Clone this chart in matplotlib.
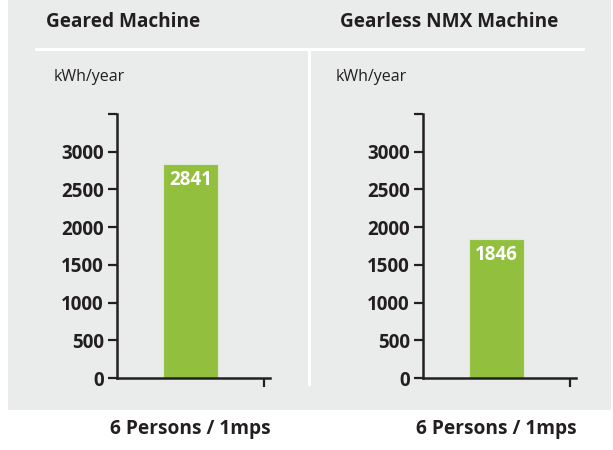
import matplotlib
matplotlib.use("Agg")
import matplotlib.pyplot as plt
from matplotlib.patches import Rectangle
from matplotlib.lines import Line2D

plt.rcParams['font.family'] = ['Open Sans', 'DejaVu Sans']

titles = ["Geared Machine", "Gearless NMX Machine"]
values = [2841, 1846]
unit_label = "kWh/year"
category_label = "6 Persons / 1mps"
yticks = [0, 500, 1000, 1500, 2000, 2500, 3000, 3500]
yticklabels = ["0", "500", "1000", "1500", "2000", "2500", "3000", ""]

W, H = 613, 450
fig = plt.figure(figsize=(W / 100, H / 100), dpi=100, facecolor="white")

def fx(px):
    return px / W

def fy(py):
    return 1 - py / H

bg = "#e9ecea"
txt = "#231f20"
green = "#92c03e"

fig.add_artist(Rectangle((fx(8), fy(410)), fx(611) - fx(8), fy(0) - fy(410),
                         transform=fig.transFigure, facecolor=bg, edgecolor="none", zorder=0))
fig.add_artist(Line2D([fx(36), fx(583)], [fy(49), fy(49)], transform=fig.transFigure,
                      color="white", lw=2.2, zorder=1))
fig.add_artist(Line2D([fx(309), fx(309)], [fy(49), fy(384)], transform=fig.transFigure,
                      color="white", lw=2.2, zorder=1))

panel_left = [117, 423]
title_x = [46, 340]
unit_x = [54, 336]

for i in range(2):
    ax = fig.add_axes([fx(panel_left[i]), fy(378), fx(153), (378 - 114) / H])
    ax.patch.set_alpha(0)
    ax.bar([0], [values[i]], width=0.8, color=green, edgecolor="#dfe9d6", linewidth=0.8, zorder=2)
    ax.annotate(str(values[i]), xy=(0, values[i]), xytext=(0, -12), textcoords="offset points",
                ha="center", va="center", color="white", fontsize=13.5, fontweight="bold")
    ax.set_xlim(-1.07, 1.155)
    ax.set_ylim(0, 3500)
    ax.set_yticks(yticks)
    ax.set_yticklabels(yticklabels)
    ax.set_xticks([1.065])
    ax.set_xticklabels([""])
    for s in ["top", "right"]:
        ax.spines[s].set_visible(False)
    for s in ["left", "bottom"]:
        ax.spines[s].set_linewidth(1.8)
        ax.spines[s].set_color(txt)
    ax.tick_params(axis="both", direction="out", length=6.5, width=1.6, color=txt,
                   labelsize=13.5, labelcolor=txt, pad=3)
    for lab in ax.get_yticklabels():
        lab.set_fontweight("bold")

    fig.text(fx(title_x[i]), fy(22), titles[i], fontsize=13.7, fontweight="bold", color=txt,
             ha="left", va="center")
    fig.text(fx(unit_x[i]), fy(77), unit_label, fontsize=11.5, color=txt, ha="left", va="center")
    fig.text(fx(panel_left[i] + 154), fy(429), category_label, fontsize=13.8, fontweight="bold",
             color=txt, ha="right", va="center")

fig.savefig("out.png", dpi=100, facecolor="white")
